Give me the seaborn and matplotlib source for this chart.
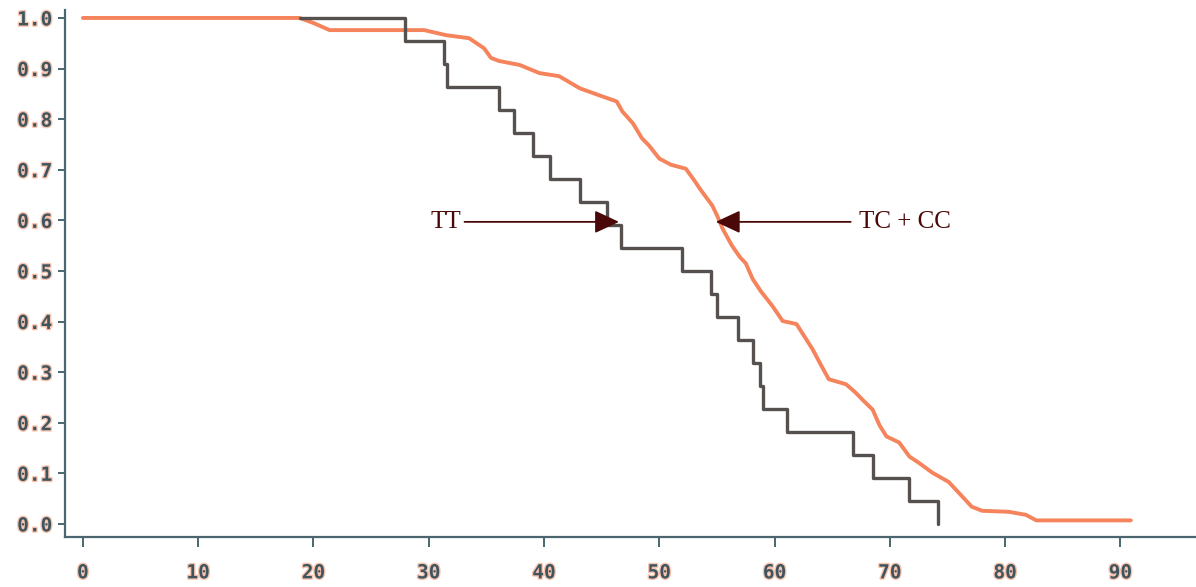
import numpy as np
import pandas as pd
import matplotlib
matplotlib.use("Agg")
import matplotlib.pyplot as plt
import matplotlib.patheffects as pe
import seaborn as sns

# ---- data ----
tt_time = [18.8, 27.9, 31.3, 31.6, 36.1, 37.4, 39.0, 40.5, 43.1, 45.5, 46.7,
           52.0, 54.5, 55.0, 56.8, 58.1, 58.7, 59.0, 61.1, 66.8, 68.5, 71.7, 74.2]
tt_surv = [1.0, 0.955, 0.909, 0.864, 0.818, 0.773, 0.727, 0.682, 0.636, 0.591, 0.545,
           0.5, 0.455, 0.409, 0.364, 0.318, 0.273, 0.227, 0.182, 0.136, 0.091, 0.045, 0.0]

tc_time = [0.0, 18.8, 20.0, 21.4, 29.6, 31.5, 33.5, 34.8, 35.4, 36.1, 37.9, 39.6,
           41.3, 43.1, 44.8, 46.3, 46.8, 47.7, 48.5, 49.1, 50.0, 51.0, 52.3, 53.0,
           53.5, 54.6, 55.0, 55.5, 56.3, 57.0, 57.5, 58.1, 58.8, 59.8, 60.7, 61.9,
           62.6, 63.3, 64.0, 64.7, 66.2, 67.0, 67.6, 68.5, 69.1, 69.7, 70.8, 71.7,
           72.5, 73.7, 75.1, 76.0, 77.1, 78.0, 80.3, 81.8, 82.7, 90.9]
tc_surv = [1.0, 1.0, 0.99, 0.976, 0.976, 0.966, 0.96, 0.94, 0.921, 0.915, 0.907, 0.891,
           0.885, 0.861, 0.847, 0.835, 0.815, 0.792, 0.762, 0.748, 0.722, 0.71, 0.702, 0.68,
           0.663, 0.629, 0.61, 0.583, 0.55, 0.527, 0.515, 0.484, 0.46, 0.431, 0.401, 0.395,
           0.37, 0.345, 0.315, 0.286, 0.276, 0.26, 0.246, 0.226, 0.195, 0.173, 0.161, 0.133,
           0.121, 0.101, 0.083, 0.061, 0.034, 0.026, 0.024, 0.018, 0.007, 0.007]

x_ticks = [0, 10, 20, 30, 40, 50, 60, 70, 80, 90]
y_ticks = [0.0, 0.1, 0.2, 0.3, 0.4, 0.5, 0.6, 0.7, 0.8, 0.9, 1.0]

label_tt = "TT"
label_tc = "TC + CC"
arrow_y = 0.597
tt_tip, tt_start = 46.5, 33.1
tc_tip, tc_start = 54.9, 66.6

# ---- plotting ----
sns.set_style("ticks")
fig = plt.figure(figsize=(11.96, 5.87), dpi=100)
ax = fig.add_axes([0.0543, 0.0852, 0.9447, 0.898])

df_tt = pd.DataFrame({"time": tt_time, "surv": tt_surv})
df_tc = pd.DataFrame({"time": tc_time, "surv": tc_surv})

sns.lineplot(data=df_tc, x="time", y="surv", ax=ax, estimator=None, sort=False,
             color="#f5835c", linewidth=2.8, zorder=2)
sns.lineplot(data=df_tt, x="time", y="surv", ax=ax, estimator=None, sort=False,
             drawstyle="steps-post", color="#56504e", linewidth=2.4, zorder=3)

ax.set_xlim(-1.56, 96.45)
ax.set_ylim(-0.0258, 1.016)
ax.set_xticks(x_ticks)
ax.set_yticks(y_ticks)
ax.set_xticklabels([str(t) for t in x_ticks])
ax.set_yticklabels([f"{t:.1f}" for t in y_ticks])
ax.set_xlabel("")
ax.set_ylabel("")

axis_col = "#4a6670"
for side in ["top", "right"]:
    ax.spines[side].set_visible(False)
for side in ["left", "bottom"]:
    ax.spines[side].set_color(axis_col)
    ax.spines[side].set_linewidth(1.6)
ax.tick_params(axis="y", direction="out", length=5, width=1.4, color=axis_col, pad=4)
ax.tick_params(axis="x", direction="out", length=7, width=1.4, color=axis_col, pad=12)

halo = [pe.withStroke(linewidth=2.0, foreground="#f9c4ae")]
for lab in ax.get_xticklabels() + ax.get_yticklabels():
    lab.set_fontfamily("DejaVu Sans Mono")
    lab.set_fontweight("bold")
    lab.set_fontsize(14)
    lab.set_color("#3e5560")
    lab.set_path_effects(halo)

txt_col = "#4a0808"
ax.text(32.8, arrow_y, label_tt, ha="right", va="center", fontsize=18,
        family="Liberation Serif", color=txt_col)
ax.text(67.3, arrow_y, label_tc, ha="left", va="center", fontsize=18,
        family="Liberation Serif", color=txt_col)
arrow_kw = dict(arrowstyle="-|>,head_length=0.75,head_width=0.35", color=txt_col,
                lw=1.3, mutation_scale=20, shrinkA=0, shrinkB=0)
ax.annotate("", xy=(tt_tip, arrow_y), xytext=(tt_start, arrow_y), arrowprops=arrow_kw, zorder=4)
ax.annotate("", xy=(tc_tip, arrow_y), xytext=(tc_start, arrow_y), arrowprops=arrow_kw, zorder=4)

fig.savefig("out.png", dpi=100)
